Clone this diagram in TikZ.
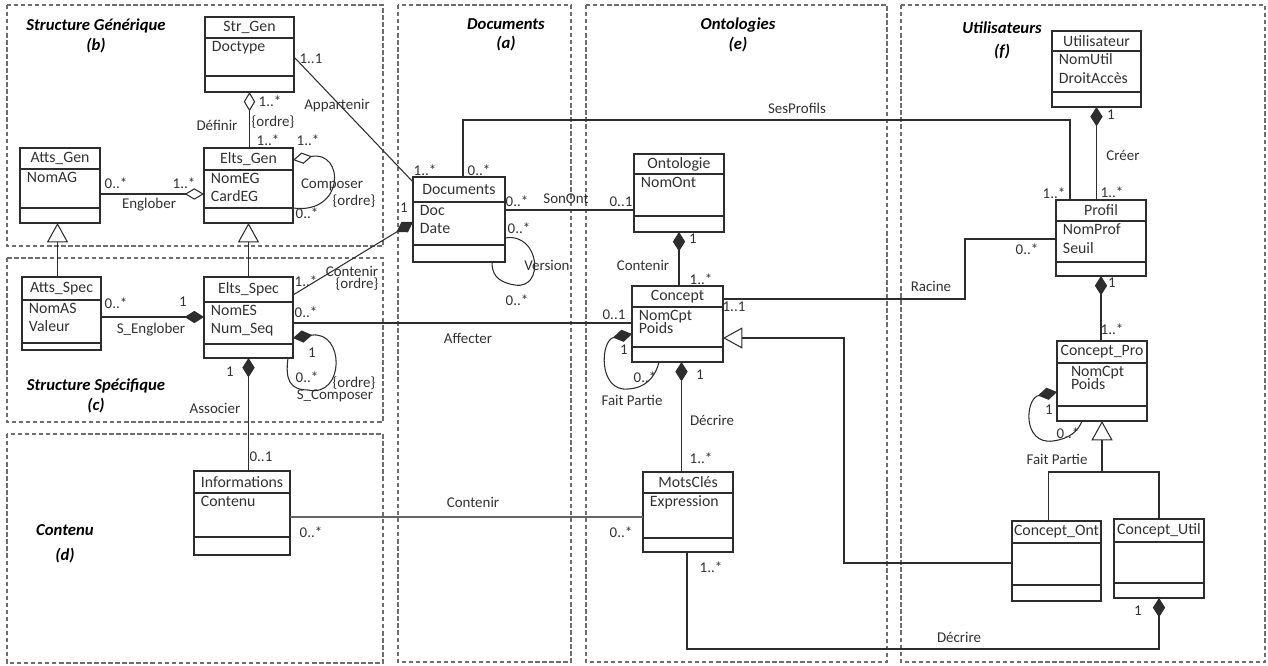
\documentclass[tikz,border=0pt]{standalone}
\usepackage{fontspec}
\setmainfont{Carlito}
\usetikzlibrary{arrows.meta, calc}
\definecolor{linegray}{RGB}{45,45,45}
\definecolor{textgray}{RGB}{50,50,50}
\definecolor{framegray}{RGB}{110,110,110}

% UML class: id, north west corner, width, height, 1st divider, 2nd divider, name, attributes
\newcommand{\umlclass}[8]{%
  \node[classbox, minimum width=#3*0.02cm, minimum height=#4*0.02cm] (#1) at #2 {};
  \draw[classline] ($(#1.north west)+(0,#5)$) -- ($(#1.north east)+(0,#5)$);
  \draw[classline] ($(#1.north west)+(0,#6)$) -- ($(#1.north east)+(0,#6)$);
  \node[classname] (#1-name) at ($(#1.north)+(0,#5/2)$) {#7};
  \node[classattr] (#1-attr) at ($(#1.north west)+(4,#5)$) {#8};
}

\begin{document}
\begin{tikzpicture}[
    x=0.02cm, y=-0.02cm,
    pkg/.style={draw=framegray, line width=0.6pt, dash pattern=on 2.5pt off 1.5pt},
    pkgtitle/.style={font=\fontsize{9.5}{11}\selectfont\bfseries\itshape, align=center, inner sep=1pt},
    classbox/.style={draw=linegray, line width=0.7pt, anchor=north west, inner sep=0pt, outer sep=0pt},
    classline/.style={draw=linegray, line width=0.6pt},
    classname/.style={font=\fontsize{9}{10}\selectfont, text=textgray, inner sep=0pt},
    classattr/.style={font=\fontsize{9}{10.5}\selectfont, text=textgray, align=left, inner sep=1.5pt, anchor=north west},
    assoc/.style={draw=linegray, line width=0.6pt},
    agg/.style={assoc, {Diamond[open, length=11pt, width=6.5pt]}-},
    aggend/.style={assoc, -{Diamond[open, length=11pt, width=6.5pt]}},
    comp/.style={assoc, {Diamond[length=11pt, width=7pt]}-},
    compend/.style={assoc, -{Diamond[length=11pt, width=7pt]}},
    gen/.style={assoc, -{Triangle[open, length=11pt, width=12pt]}},
    lbl/.style={font=\fontsize{8.5}{10}\selectfont, text=textgray, inner sep=1pt},
    mult/.style={font=\fontsize{8.5}{10}\selectfont, text=textgray, inner sep=1pt}
]
  \useasboundingbox (0,0) rectangle (1268,666);

  % Packages
  \draw[pkg] (7,5) rectangle (383,246);
  \draw[pkg] (7,258) rectangle (383,422);
  \draw[pkg] (7,434) rectangle (383,663);
  \draw[pkg] (398,5) rectangle (571,662);
  \draw[pkg] (586,5) rectangle (887,662);
  \draw[pkg] (901,5) rectangle (1265,662);
  \node[pkgtitle] (t-b) at (96,36) {Structure Générique\\(b)};
  \node[pkgtitle] (t-c) at (96,396) {Structure Spécifique\\(c)};
  \node[pkgtitle] (t-d) at (65,544) {Contenu\\[3pt](d)};
  \node[pkgtitle] (t-a) at (506,35) {Documents\\(a)};
  \node[pkgtitle] (t-e) at (738,35) {Ontologies\\(e)};
  \node[pkgtitle] (t-f) at (1002,40) {Utilisateurs\\[2pt](f)};

  % Classes
  \umlclass{strgen}{(205,17)}{89}{75}{21}{59}{Str\_Gen}{Doctype}
  \umlclass{attsgen}{(20,148)}{80}{75}{21}{60}{Atts\_Gen}{NomAG}
  \umlclass{eltsgen}{(204,148)}{89}{75}{22}{60}{Elts\_Gen}{NomEG\\CardEG}
  \umlclass{attsspec}{(22,277)}{79}{73}{23}{66}{Atts\_Spec}{NomAS\\Valeur}
  \umlclass{eltsspec}{(204,277)}{89}{81}{25}{67}{Elts\_Spec}{NomES\\Num\_Seq}
  \umlclass{informations}{(194,471)}{96}{84}{22}{66}{Informations}{Contenu}
  \umlclass{documents}{(413,177)}{92}{85}{25}{68}{Documents}{Doc\\Date}
  \umlclass{ontologie}{(634,154)}{90}{78}{20}{62}{Ontologie}{NomOnt}
  \umlclass{concept}{(632,286)}{91}{76}{21}{61}{Concept}{NomCpt\\[-3pt]Poids}
  \umlclass{motscles}{(643,472)}{90}{80}{21}{66}{MotsClés}{Expression}
  \umlclass{utilisateur}{(1052,31)}{89}{76}{20}{61}{Utilisateur}{NomUtil\\DroitAccès}
  \umlclass{profil}{(1056,200)}{90}{76}{21}{62}{Profil}{NomProf\\Seuil}
  \umlclass{conceptpro}{(1057,341)}{90}{80}{22}{65}{Concept\_Pro}{\hspace*{4pt}NomCpt\\[-3pt]\hspace*{4pt}Poids}
  \umlclass{conceptont}{(1012,521)}{89}{80}{22}{64}{Concept\_Ont}{}
  \umlclass{conceptutil}{(1114,519)}{90}{79}{23}{64}{Concept\_Util}{}

  % Structure generique
  \draw[agg] (strgen.south) -- (strgen.south |- eltsgen.north);
  \draw[aggend] ($(attsgen.north east)+(0,46)$) -- ($(eltsgen.north west)+(0,46)$);
  \draw[agg] ($(eltsgen.north east)+(0,12)$) .. controls +(52,-10) and +(52,7) .. ($(eltsgen.north east)+(0,60)$);
  \draw[assoc] ($(strgen.north east)+(0,40)$) -- ($(documents.north west)+(0,5)$);

  % Structure specifique
  \coordinate (g1) at ($(attsspec.north)+(-4,0)$);
  \draw[gen] (g1) -- (g1 |- attsgen.south);
  \draw[gen] (eltsspec.north) -- (eltsgen.south);
  \draw[compend] ($(attsspec.north east)+(0,40)$) -- ($(eltsspec.north west)+(0,40)$);
  \draw[comp] ($(eltsspec.north east)+(0,61)$) .. controls +(52,-8) and +(37,8) .. ($(eltsspec.north west)+(104,113)$)
              .. controls +(-18,0) and +(-3,22) .. ($(eltsspec.south east)+(-5,0)$);
  \draw[comp] (eltsspec.south) -- (eltsspec.south |- informations.north);
  \draw[compend] ($(eltsspec.north east)+(0,18)$) -- ($(documents.north west)+(0,45)$);
  \draw[assoc] ($(eltsspec.north east)+(0,46)$) -- ($(concept.north west)+(0,37)$);

  % Contenu
  \draw[assoc, line width=1.3pt, draw=gray!80!black] ($(informations.north east)+(0,46)$) -- ($(motscles.north west)+(0,45)$);

  % Documents
  \draw[assoc] ($(documents.north east)+(0,33)$) -- ($(ontologie.north west)+(0,56)$);
  \draw[assoc] ($(documents.north east)+(0,61)$) .. controls +(35,-6) and +(30,5) .. ($(documents.south east)+(10,23)$)
               .. controls +(-20,-3) and +(0,10) .. ($(documents.south east)+(-13,0)$);
  \draw[assoc] ($(documents.north)+(4,0)$) -- ++(0,-57) -| ($(profil.north west)+(14,0)$);

  % Ontologies
  \draw[comp] (ontologie.south) -- (ontologie.south |- concept.north);
  \coordinate (d1) at ($(concept.south)+(4,0)$);
  \draw[comp] (d1) -- (d1 |- motscles.north);
  \draw[comp] ($(concept.north west)+(0,48)$) .. controls +(-32,6) and +(-30,3) .. ($(concept.south west)+(-4,27)$)
              .. controls +(17,-1) and +(-4,16) .. ($(concept.south west)+(27,0)$);
  \draw[assoc] ($(concept.north east)+(0,13)$) -- ++(242,0) |- ($(profil.north west)+(0,39)$);
  \draw[gen] ($(conceptont.north west)+(0,42)$) -- ++(-168,0) |- ($(concept.north east)+(0,52)$);
  \draw[compend] ($(motscles.south)+(-1,0)$) -- ++(0,97) -| (conceptutil.south);

  % Utilisateurs
  \draw[comp] (utilisateur.south) -- (utilisateur.south |- profil.north);
  \draw[comp] (profil.south) -- (profil.south |- conceptpro.north);
  \draw[comp] ($(conceptpro.north west)+(0,51)$) .. controls +(-32,6) and +(-31,4) .. ($(conceptpro.south west)+(-4,20)$)
              .. controls +(15,-2) and +(-4,11) .. ($(conceptpro.south west)+(25,0)$);
  \coordinate (genj) at ($(conceptpro.south)+(0,51)$);
  \draw[gen] (genj) -- (conceptpro.south);
  \draw[assoc] ($(conceptont.north)+(-8,0)$) |- (genj) -| (conceptutil.north);

  % Labels (b)
  \node[mult] (m-def1) at (270,101) {1..*};
  \node[lbl] (l-ordre1) at (273,122) {\{ordre\}};
  \node[lbl] (l-def) at (217,125) {Définir};
  \node[mult] (m-def2) at (268,140) {1..*};
  \node[mult] (m-comp1) at (308,140) {1..*};
  \node[lbl] (l-comp) at (332,185) {Composer};
  \node[lbl] (l-ordre2) at (354,201) {\{ordre\}};
  \node[mult] (m-comp2) at (307,213) {0..*};
  \node[mult] (m-eng1) at (116,183) {0..*};
  \node[mult] (m-eng2) at (184,183) {1..*};
  \node[lbl] (l-eng) at (149,205) {Englober};
  \node[mult] (m-app1) at (311,59) {1..1};
  \node[lbl] (l-app) at (337,106) {Appartenir};
  \node[mult] (m-app2) at (425,170) {1..*};
  % Labels (c)
  \node[mult] (m-cont1) at (306,281) {1..*};
  \node[lbl] (l-cont) at (352,271) {Contenir};
  \node[lbl] (l-ordre4) at (357,284) {\{ordre\}};
  \node[mult] (m-cont2) at (404,208) {1};
  \node[mult] (m-seng1) at (116,303) {0..*};
  \node[mult] (m-seng2) at (183,302) {1};
  \node[lbl] (l-seng) at (151,330) {S\_Englober};
  \node[mult] (m-aff1) at (306,312) {0..*};
  \node[mult] (m-scomp1) at (312,353) {1};
  \node[mult] (m-scomp2) at (307,377) {0..*};
  \node[lbl] (l-ordre3) at (354,383) {\{ordre\}};
  \node[lbl] (l-scomp) at (335,396) {S\_Composer};
  \node[mult] (m-ass1) at (230,372) {1};
  \node[lbl] (l-ass) at (215,408) {Associer};
  \node[mult] (m-ass2) at (261,457) {0..1};
  % Labels (d)
  \node[mult] (m-info1) at (311,532) {0..*};
  \node[lbl] (l-info) at (473,502) {Contenir};
  \node[mult] (m-info2) at (621,532) {0..*};
  % Labels (a)
  \node[mult] (m-ses1) at (479,170) {0..*};
  \node[mult] (m-son1) at (517,201) {0..*};
  \node[lbl] (l-son) at (566,199) {SonOnt};
  \node[mult] (m-son2) at (621,202) {0..1};
  \node[mult] (m-ver1) at (519,228) {0..*};
  \node[lbl] (l-ver) at (547,265) {Version};
  \node[mult] (m-ver2) at (517,300) {0..*};
  \node[lbl] (l-ses) at (797,108) {SesProfils};
  \node[lbl] (l-aff) at (468,338) {Affecter};
  \node[mult] (m-aff2) at (614,315) {0..1};
  % Labels (e)
  \node[mult] (m-oc1) at (693,239) {1};
  \node[lbl] (l-oc) at (643,265) {Contenir};
  \node[mult] (m-oc2) at (701,279) {1..*};
  \node[mult] (m-rac1) at (734,307) {1..1};
  \node[mult] (m-fp1) at (624,350) {1};
  \node[mult] (m-fp2) at (645,377) {0..*};
  \node[lbl] (l-fp) at (632,400) {Fait Partie};
  \node[mult] (m-dec1) at (700,375) {1};
  \node[lbl] (l-dec) at (712,420) {Décrire};
  \node[mult] (m-dec2) at (701,458) {1..*};
  \node[mult] (m-dec3) at (711,567) {1..*};
  % Labels (f)
  \node[lbl] (l-rac) at (931,286) {Racine};
  \node[mult] (m-rac2) at (1027,249) {0..*};
  \node[mult] (m-cre1) at (1111,115) {1};
  \node[lbl] (l-cre) at (1123,155) {Créer};
  \node[mult] (m-cre2) at (1112,192) {1..*};
  \node[mult] (m-ses2) at (1054,193) {1..*};
  \node[mult] (m-pro1) at (1112,283) {1};
  \node[mult] (m-pro2) at (1112,329) {1..*};
  \node[mult] (m-fp3) at (1049,410) {1};
  \node[mult] (m-fp4) at (1068,433) {0..*};
  \node[lbl] (l-fp2) at (1057,459) {Fait Partie};
  \node[lbl] (l-dec2) at (959,637) {Décrire};
  \node[mult] (m-dec4) at (1138,611) {1};
\end{tikzpicture}
\end{document}
